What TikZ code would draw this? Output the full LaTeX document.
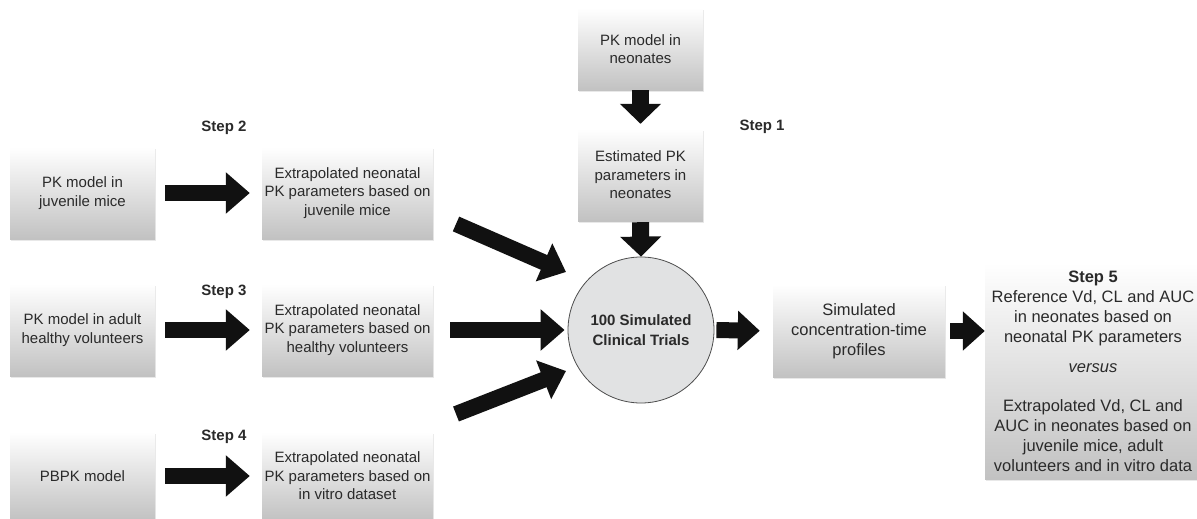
\documentclass[tikz,border=0pt]{standalone}
\usepackage{fontspec}
\setmainfont{Liberation Sans}
\usetikzlibrary{arrows.meta,shadows}
\definecolor{txt}{HTML}{2A2A2A}
\definecolor{arrowblk}{HTML}{111111}
\definecolor{circfill}{HTML}{E1E2E3}
\begin{document}
\begin{tikzpicture}[x=1pt,y=-1pt,
  box/.style={rectangle, top color=white, bottom color=black!24, draw=none,
    align=center, text=txt, inner sep=0pt,
    font=\fontsize{15}{18.5}\selectfont,
    drop shadow={shadow xshift=1.2pt, shadow yshift=-1.6pt, opacity=.18}},
  leftbox/.style={box, minimum width=145pt, minimum height=92pt},
  midbox/.style={box, minimum width=171pt, minimum height=92pt},
  colbox/.style={box, minimum width=125pt},
  bigbox/.style={box, font=\fontsize{16.5}{20}\selectfont},
  steplabel/.style={font=\fontsize{15}{18}\selectfont\bfseries, text=txt},
  blockarrow/.style={line width=16pt, draw=arrowblk,
    -{Triangle[length=24pt,width=40pt]}},
  downarrow/.style={line width=17pt, draw=arrowblk,
    -{Triangle[length=20pt,width=40pt]}},
  shortarrow/.style={line width=16pt, draw=arrowblk,
    -{Triangle[length=22pt,width=38pt]}}
]
\useasboundingbox (0,0) rectangle (1197,519);
\begin{scope}
\clip (0,0) rectangle (1197,519);

% source models (left column)
\node[leftbox] (a1) at (82.5,193) {PK model in\\juvenile mice};
\node[leftbox] (a2) at (82.5,330) {PK model in adult\\healthy volunteers};
\node[leftbox, minimum height=88pt] (a3) at (82.5,476) {PBPK model};

% extrapolated parameters (second column)
\node[midbox] (b1) at (347.5,193) {Extrapolated neonatal\\PK parameters based on\\juvenile mice};
\node[midbox] (b2) at (347.5,330) {Extrapolated neonatal\\PK parameters based on\\healthy volunteers};
\node[midbox, minimum height=88pt] (b3) at (347.5,476) {Extrapolated neonatal\\PK parameters based on\\in vitro dataset};

% neonatal column
\node[colbox, minimum height=82pt] (n1) at (640.5,49) {PK model in\\neonates};
\node[colbox, minimum height=92pt] (n2) at (640.5,175) {Estimated PK\\parameters in\\neonates};

% simulation hub
\node[circle, minimum size=146pt, inner sep=0pt, fill=circfill, draw=black!70,
  line width=0.8pt, align=center, text=txt,
  font=\fontsize{15}{20.5}\selectfont\bfseries] (sim) at (641,330)
  {100 Simulated\\Clinical Trials};

% outputs
\node[bigbox, minimum width=172pt, minimum height=93pt] (prof) at (859,331)
  {Simulated\\concentration-time\\profiles};
\node[bigbox, minimum width=216pt, minimum height=216pt] (cmp) at (1093,371)
  {\textbf{Step 5}\\Reference Vd, CL and AUC\\in neonates based on\\neonatal PK parameters\\[10pt]
   \textit{versus}\\[19pt]
   Extrapolated Vd, CL and\\AUC in neonates based on\\juvenile mice, adult\\volunteers and in vitro data};

% step labels
\node[steplabel] (s1) at (762,127) {Step 1};
\node[steplabel] (s2) at (224,128) {Step 2};
\node[steplabel] (s3) at (224,292) {Step 3};
\node[steplabel] (s4) at (224,437) {Step 4};

% free ends of the slanted arrows
\coordinate (d1s) at (456,224);
\coordinate (d1e) at (566,272);
\coordinate (d3s) at (456,414);
\coordinate (d3e) at (566,371);

% connectors
\draw[blockarrow, shorten <=10pt, shorten >=12pt] (a1.east) -- (b1.west);
\draw[blockarrow, shorten <=10pt, shorten >=12pt] (a2.east) -- (b2.west);
\draw[blockarrow, shorten <=10pt, shorten >=12pt] (a3.east) -- (b3.west);
\draw[blockarrow, shorten <=17pt, shorten >=3pt] (b2.east) -- (sim.west);
\draw[blockarrow] (d1s) -- (d1e);
\draw[blockarrow] (d3s) -- (d3e);
\draw[downarrow, shorten >=5pt] (n1.south) -- (n2.north);
\draw[downarrow, shorten <=1pt] (n2.south) -- (sim.north);
\draw[shortarrow, shorten <=2pt, shorten >=13pt] (sim.east) -- (prof.west);
\draw[shortarrow, shorten <=5pt] (prof.east) -- (prof.east -| cmp.west);
\end{scope}
\end{tikzpicture}
\end{document}
